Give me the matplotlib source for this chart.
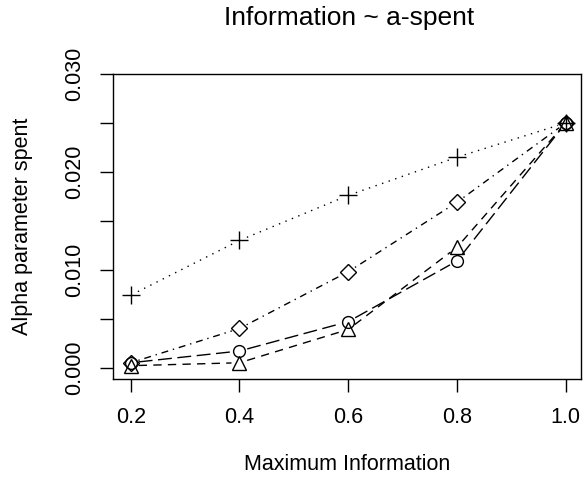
import matplotlib
matplotlib.use("Agg")
import numpy as np
import matplotlib.pyplot as plt

plt.rcParams["font.family"] = ["Liberation Sans", "DejaVu Sans"]

info = [0.2, 0.4, 0.6, 0.8, 1.0]
spent_plus = [0.0074, 0.0130, 0.0176, 0.0215, 0.0250]
spent_diamond = [0.0005, 0.0040, 0.0098, 0.0169, 0.0250]
spent_circle = [0.0005, 0.0017, 0.0047, 0.0109, 0.0250]
spent_triangle = [0.0002, 0.0005, 0.0039, 0.0123, 0.0250]

yticks = [0.000, 0.005, 0.010, 0.015, 0.020, 0.025, 0.030]
ytick_labels = ["0.000", "", "0.010", "", "0.020", "", "0.030"]

W, H = 583, 490
fig = plt.figure(figsize=(W / 100, H / 100), dpi=100)
ax = fig.add_axes([113 / W, 1 - 379 / H, (581 - 113) / W, (379 - 74) / H])
ax.set_xlim(0.1674, 1.028)
ax.set_ylim(-0.00116, 0.030)

fs = 15.5
GAP = 8  # pixels left empty around each point, like R's type="b"


def plot_b(x, y, marker, ms, ls):
    # markers on their own, then line pieces that stop short of the points
    ax.plot(x, y, ls="none", marker=marker, ms=ms, mfc="none",
            mec="black", mew=1.0)
    pts = ax.transData.transform(np.column_stack([x, y]))
    inv = ax.transData.inverted()
    for p0, p1 in zip(pts[:-1], pts[1:]):
        d = p1 - p0
        n = np.hypot(*d)
        if n <= 2 * GAP:
            continue
        u = d / n
        a, b = inv.transform([p0 + u * GAP, p1 - u * GAP])
        ax.plot([a[0], b[0]], [a[1], b[1]], color="black", lw=1.0, ls=ls)


plot_b(info, spent_plus, "+", 13, (0, (1, 4)))
plot_b(info, spent_diamond, "D", 8, (0, (1, 3.5, 5, 3.5)))
plot_b(info, spent_circle, "o", 8.5, (0, (10, 4)))
plot_b(info, spent_triangle, "^", 9.5, (0, (6, 4.5)))

ax.set_xticks(info)
ax.set_xticklabels(["0.2", "0.4", "0.6", "0.8", "1.0"])
ax.set_yticks(yticks)
ax.set_yticklabels(ytick_labels, rotation=90, va="center")
ax.tick_params(axis="both", direction="out", length=9.4, width=1.0,
               labelsize=fs, color="black")
ax.tick_params(axis="x", pad=11)
ax.tick_params(axis="y", pad=11)
for s in ax.spines.values():
    s.set_linewidth(1.0)

fig.text(349 / W, 1 - 18.5 / H, "Information ~ a-spent", ha="center",
         va="center", fontsize=19)
fig.text(347 / W, 1 - 464 / H, "Maximum Information", ha="center",
         va="center", fontsize=fs)
fig.text(22.5 / W, 1 - 226 / H, "Alpha parameter spent", ha="center",
         va="center", rotation=90, fontsize=fs)

fig.savefig("out.png", dpi=100)
